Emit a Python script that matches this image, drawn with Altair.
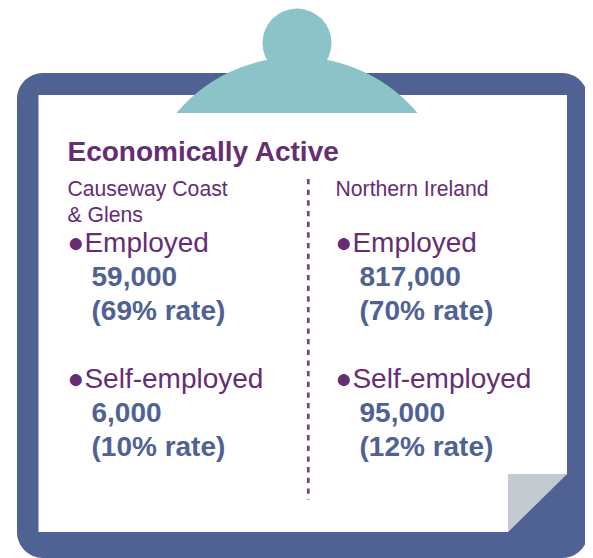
import altair as alt
import pandas as pd

TITLE = "Economically Active"
REGION_LINES = [["Causeway Coast", "& Glens"], ["Northern Ireland"]]
GROUPS = ["Employed", "Self-employed"]
COUNTS = [[59000, 6000], [817000, 95000]]
RATES = [[69, 10], [70, 12]]

PURPLE = "#662d73"
BLUE = "#506293"
TEAL = "#8cc3c8"
GREY = "#c5c9d0"
FONT = "Liberation Sans"

X = alt.Scale(domain=[8, 585], range=[0, 577], nice=False, zero=False)
Y = alt.Scale(domain=[558, 8], range=[550, 0], nice=False, zero=False)


def xq(name="x"):
    return alt.X(f"{name}:Q", scale=X, axis=None)


def yq(name="y"):
    return alt.Y(f"{name}:Q", scale=Y, axis=None)


def rect(x, x2, y, y2, color, radius=0):
    d = pd.DataFrame({"x": [x], "x2": [x2], "y": [y], "y2": [y2]})
    return alt.Chart(d).mark_rect(color=color, cornerRadius=radius).encode(
        x=xq(), x2="x2:Q", y=yq(), y2="y2:Q"
    )


def arc(x, y, r, t0, t1, color):
    d = pd.DataFrame({"x": [x], "y": [y]})
    return alt.Chart(d).mark_arc(color=color, radius=r, theta=t0, theta2=t1).encode(
        x=xq(), y=yq()
    )


def tri(xs, ys, y2s, color):
    d = pd.DataFrame({"x": xs, "y": ys, "y2": y2s})
    return alt.Chart(d).mark_area(color=color, interpolate="linear").encode(
        x=xq(), y=yq(), y2="y2:Q"
    )


def text(rows, size, color, bold=False):
    d = pd.DataFrame(rows, columns=["x", "y", "t"])
    return alt.Chart(d).mark_text(
        align="left", baseline="alphabetic", font=FONT, fontSize=size, color=color,
        fontWeight="bold" if bold else "normal",
    ).encode(x=xq(), y=yq(), text="t:N")


region_rows, group_rows, value_rows = [], [], []
for col, bx, rx, vx in [(0, 67.5, 67.5, 91.5), (1, 335.5, 335.5, 359.5)]:
    for i, line in enumerate(REGION_LINES[col]):
        region_rows.append((rx, 196 + 26 * i, line))
    for j, g in enumerate(GROUPS):
        base = 252 + 136 * j
        group_rows.append((bx, base, "\u25cf" + g))
        value_rows.append((vx, base + 34, f"{COUNTS[col][j]:,}"))
        value_rows.append((vx, base + 68, f"({RATES[col][j]}% rate)"))

divider = alt.Chart(pd.DataFrame({"x": [308.3], "y": [179], "y2": [499.5]})).mark_rule(
    color=PURPLE, strokeWidth=2.7, strokeDash=[5.3, 5.37], opacity=0.9
).encode(x=xq(), y=yq(), y2="y2:Q")

chart = alt.layer(
    rect(17, 588, 73, 558, BLUE, 26),
    rect(38.5, 567, 95, 532, "white"),
    arc(297, 214.6, 157.6, 5.41, 7.156, TEAL),
    rect(170, 425, 113, 225, "white"),
    arc(297, 43, 34.5, 0, 6.2832, TEAL),
    tri([508, 567], [474, 474], [532, 474], GREY),
    tri([508, 567], [532, 474], [532, 532], BLUE),
    divider,
    text([(67.5, 161, TITLE)], 28, PURPLE, True),
    text(region_rows, 21.2, PURPLE),
    text(group_rows, 28, PURPLE),
    text(value_rows, 28, BLUE, True),
).properties(
    width=577, height=550, padding=0, background="white",
    autosize=alt.AutoSizeParams(type="none"),
).configure_view(stroke=None)

chart.save("out.html", embed_options={"renderer": "svg", "actions": False})
